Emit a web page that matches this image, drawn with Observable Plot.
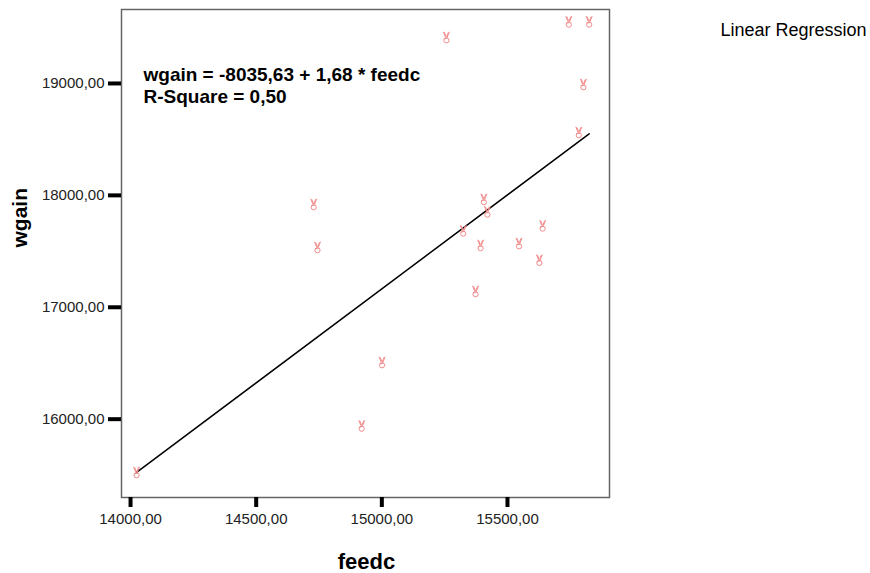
<!DOCTYPE html>
<html>
<head>
<meta charset="utf-8">
<script src="https://cdn.jsdelivr.net/npm/d3@7"></script>
<script src="https://cdn.jsdelivr.net/npm/@observablehq/plot@0.6"></script>
<style>
  body { margin: 0; background: #fff; }
  svg { display: block; }
</style>
</head>
<body>
<div id="chart"></div>
<script>
const feedc = [14024, 14729, 14744, 14920, 15001, 15257, 15324, 15373, 15393,
               15406, 15420, 15546, 15627, 15640, 15744, 15825, 15802, 15784];
const wgain = [15521, 17916, 17532, 15937, 16504, 19408, 17680, 17139, 17550,
               17961, 17850, 17567, 17418, 17725, 19548, 19548, 18988, 18559];

// Fitted regression coefficients (from the chart's annotation)
const intercept = -8035.63;
const slope = 1.68;

const xTicks = [14000, 14500, 15000, 15500];
const yTicks = [16000, 17000, 18000, 19000];

const titleText = "Linear Regression";
const eqText = "wgain = -8035,63 + 1,68 * feedc\nR-Square = 0,50";
const xLabel = "feedc";
const yLabel = "wgain";

const points = feedc.map((x, i) => ({x, y: wgain[i]}));
const xMin = d3.min(feedc), xMax = d3.max(feedc);
const fitLine = [xMin, xMax].map(x => ({x, y: intercept + slope * x}));

const fmt = d => d3.format(".2f")(d).replace(".", ",");

// small "victory hand" marker: two fingers (V) above a round palm
const handSymbol = {
  draw(context, size) {
    const s = Math.sqrt(size / Math.PI) / 4; // scale factor
    // fingers
    context.moveTo(-3 * s, -6 * s);
    context.lineTo(-0.8 * s, -0.5 * s);
    context.moveTo(3 * s, -6 * s);
    context.lineTo(0.8 * s, -0.5 * s);
    context.moveTo(-2 * s, -5.5 * s);
    context.lineTo(-0.2 * s, -1 * s);
    context.moveTo(2 * s, -5.5 * s);
    context.lineTo(0.2 * s, -1 * s);
    // palm
    context.moveTo(2.6 * s, 2.5 * s);
    context.arc(0, 2.5 * s, 2.6 * s, 0, 2 * Math.PI);
    // thumb/knuckle
    context.moveTo(-2.6 * s, 1 * s);
    context.lineTo(1.5 * s, 0.2 * s);
  }
};

const chart = Plot.plot({
  width: 870,
  height: 573,
  marginLeft: 121,
  marginRight: 261,
  marginTop: 9,
  marginBottom: 76,
  style: {fontFamily: "'Liberation Sans', Arial, sans-serif", fontSize: "15px", background: "#fff", color: "#000"},
  x: {domain: [13964, 15906], label: null},
  y: {domain: [15300, 19661], label: null},
  marks: [
    Plot.frame({stroke: "#666", strokeWidth: 1.5}),
    Plot.axisX(xTicks, {tickSize: 10, tickPadding: 6, strokeWidth: 4, stroke: "#000", fill: "#222", tickFormat: fmt, label: null}),
    Plot.axisY(yTicks, {tickSize: 13, tickPadding: 4, strokeWidth: 4, stroke: "#000", fill: "#222", tickFormat: fmt, label: null}),
    Plot.line(fitLine, {x: "x", y: "y", stroke: "#000", strokeWidth: 1.5}),
    Plot.dot(points, {x: "x", y: "y", symbol: handSymbol, r: 4, stroke: "#f28b8b", strokeWidth: 1, fill: "none"}),
    Plot.text([eqText], {frameAnchor: "top-left", dx: 22, dy: 55.5, text: d => d, textAnchor: "start", lineAnchor: "top", lineHeight: 1.16, fontSize: 19, fontWeight: "bold", fill: "#000"}),
    Plot.text([titleText], {frameAnchor: "top-right", dx: 257, dy: 26.7, text: d => d, textAnchor: "end", lineAnchor: "bottom", fontSize: 18, fill: "#000"}),
    Plot.text([xLabel], {frameAnchor: "bottom", dx: 1, dy: 71, text: d => d, lineAnchor: "bottom", fontSize: 22, fontWeight: "bold", fill: "#000"}),
    Plot.text([yLabel], {frameAnchor: "left", dx: -101, dy: -6, rotate: -90, text: d => d, fontSize: 21, fontWeight: "bold", fill: "#000"})
  ]
});

document.getElementById("chart").appendChild(chart);
</script>
</body>
</html>
